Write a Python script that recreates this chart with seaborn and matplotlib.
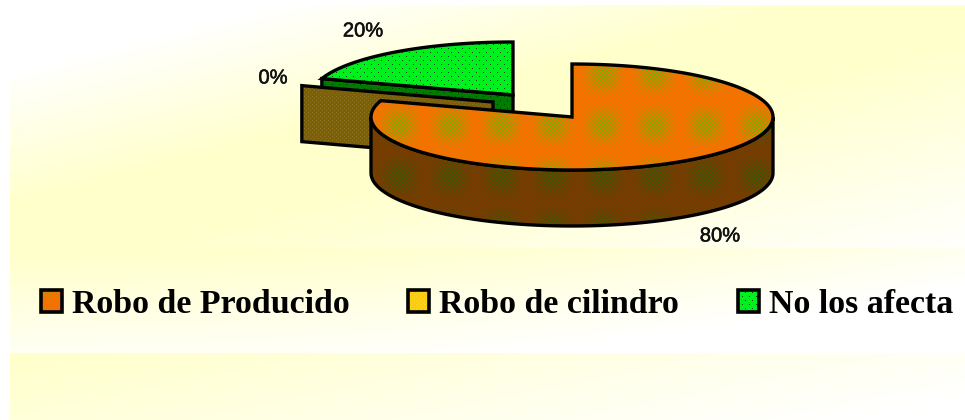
import numpy as np
import matplotlib
matplotlib.use("Agg")
import matplotlib.pyplot as plt
from matplotlib.patches import Polygon
import matplotlib.patheffects as pe
import seaborn as sns

categories = ["Robo de Producido", "Robo de cilindro", "No los afecta"]
shares = [80, 0, 20]

W, H = 965, 420
RX, RY, DEPTH = 201, 53, 56
# slice centres after the explosion, same order as categories
centres = [(572, 117), (493, 102), (513, 95)]

sns.set_theme(style="white")
plt.rcParams["font.family"] = ["Liberation Sans", "DejaVu Sans"]

yy, xx = np.mgrid[0:H, 0:W]


def mix(a, b, t):
    t = np.clip(t, 0, 1)[..., None]
    return np.array(a, float) * (1 - t) + np.array(b, float) * t


def make_background():
    bg = np.ones((H, W, 3)) * 255.0
    white, deep = (255, 255, 255), (255, 255, 204)
    u = xx / 965 + yy / 243
    band1 = mix(white, deep, np.minimum((u - 0.3) / 0.55, (2.05 - u) / 0.9))
    band2 = mix(white, deep, 1.05 - 0.75 * (xx / 965) ** 2 - 0.85 * (yy - 248) / 105)
    band3 = mix(white, deep, 1.05 - 0.85 * xx / 965 - 0.3 * (yy - 353) / 67)
    bg[5:248] = band1[5:248]
    bg[248:353] = band2[248:353]
    bg[353:] = band3[353:]
    bg[:, :10] = 255
    return bg / 255


def texture(base, dot, kind):
    if kind == "orange":
        mask = ((xx % 4 == 0) & (yy % 4 == 0)) | ((xx % 4 == 2) & (yy % 4 == 2))
        blob = (0.5 + 0.5 * np.cos(2 * np.pi * (xx - 450) / 51)) * (0.5 + 0.5 * np.cos(2 * np.pi * (yy - 125) / 51))
        strength = mask * (0.12 + 0.7 * blob)
    elif kind == "green":
        mask = ((xx % 7 == 0) & (yy % 8 == 0)) | ((xx % 7 == 3) & (yy % 8 == 4))
        strength = mask * 0.9
    else:
        mask = ((xx % 4 == 0) & (yy % 4 == 0)) | ((xx % 4 == 2) & (yy % 4 == 2))
        strength = mask * 0.3
    return mix(base, dot, strength) / 255


def rim(centre, start, end, drop=0, n=120):
    a = np.radians(np.linspace(start, end, n))
    return np.column_stack([centre[0] + RX * np.sin(a), centre[1] - RY * np.cos(a) + drop])


def face(ax, verts, tex, z, lw=2.4):
    im = ax.imshow(tex, extent=(0, W, H, 0), interpolation="nearest", aspect="auto", zorder=z)
    im.set_clip_path(Polygon(verts, closed=True, transform=ax.transData))
    ax.add_patch(Polygon(verts, closed=True, fill=False, ec="black", lw=lw, joinstyle="miter", zorder=z + 0.1))


fig = plt.figure(figsize=(W / 100, H / 100), dpi=100)
ax = fig.add_axes([0, 0, 1, 1])
ax.imshow(make_background(), extent=(0, W, H, 0), interpolation="nearest", aspect="auto", zorder=0)

# slice angles clockwise from twelve o'clock
ends = np.cumsum(shares) / sum(shares) * 360
starts = np.concatenate([[0], ends[:-1]])

orange_top = texture((255, 108, 0), (50, 210, 0), "orange")
orange_side = texture((122, 58, 0), (20, 95, 0), "orange")
gold_top = texture((255, 204, 0), (255, 245, 170), "gold")
gold_side = texture((125, 96, 0), (165, 150, 120), "gold")
green_top = texture((0, 240, 30), (0, 50, 0), "green")
green_side = texture((0, 125, 0), (0, 50, 0), "green")

# green slice, at the back
c = centres[2]
corner = rim(c, starts[2], starts[2], n=1)[0]
face(ax, [corner, c, (c[0], c[1] + DEPTH), (corner[0], corner[1] + DEPTH)], green_side, 2)
face(ax, np.vstack([[c], rim(c, starts[2], ends[2])]), green_top, 3)

# empty slice only shows its cut face
c = centres[1]
corner = rim(c, ends[0], ends[0], n=1)[0]
face(ax, [corner, c, (c[0], c[1] + DEPTH), (corner[0], corner[1] + DEPTH)], gold_side, 4)

# big slice in front
c = centres[0]
wall = np.vstack([rim(c, 90, 270), rim(c, 270, 90, drop=DEPTH)])
face(ax, wall, orange_side, 5)
face(ax, np.vstack([[c], rim(c, starts[0], ends[0], n=240)]), orange_top, 6)

# percent labels
label_pos = [(720, 236), (273, 78), (363, 31)]
for share, (lx, ly) in zip(shares, label_pos):
    ax.text(lx, ly, f"{share}%", ha="center", va="center", fontsize=14.5, color="#111111", zorder=8,
            path_effects=[pe.withStroke(linewidth=0.4, foreground="#111111")])

# legend row
swatch_x = [41, 408, 738]
text_x = [72, 439, 769]
swatch_tex = [orange_top, gold_top, green_top]
for name, sx, tx, tex in zip(categories, swatch_x, text_x, swatch_tex):
    box = [(sx, 290), (sx + 21, 290), (sx + 21, 312), (sx, 312)]
    face(ax, box, tex, 7, lw=2.6)
    ax.text(tx, 313, name, ha="left", va="baseline", fontsize=24.4, fontweight="bold",
            family=["Liberation Serif", "DejaVu Serif"], color="black", zorder=8)

ax.set_xlim(0, W)
ax.set_ylim(H, 0)
ax.axis("off")
fig.savefig("out.png", dpi=100)
plt.close(fig)
